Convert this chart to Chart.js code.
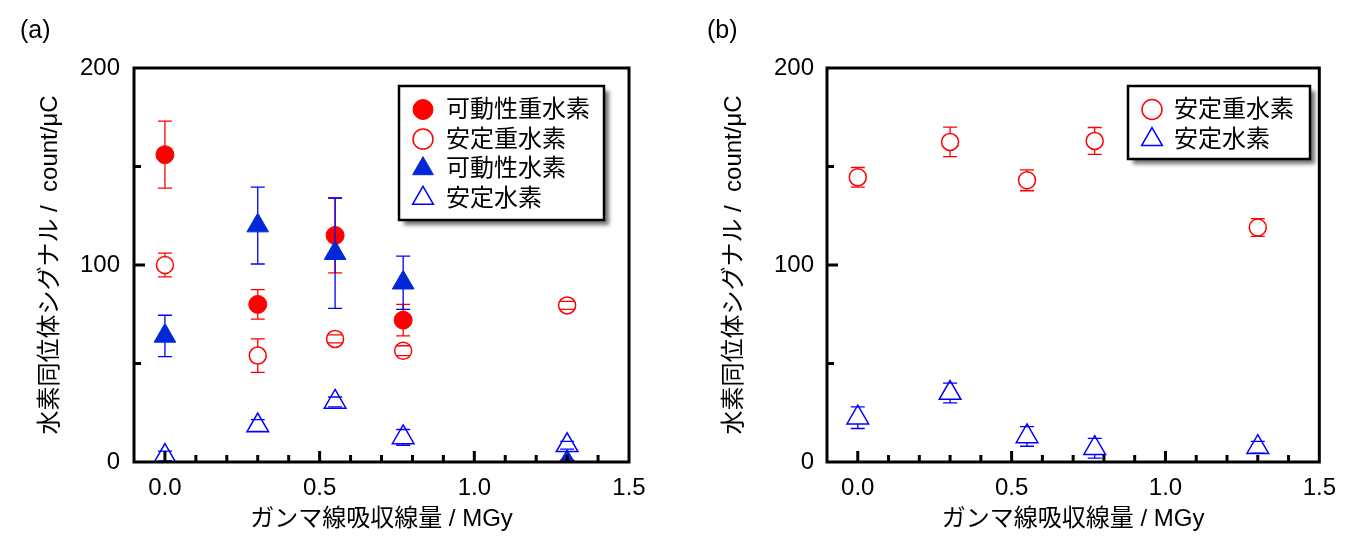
<!DOCTYPE html>
<html>
<head>
<meta charset="utf-8">
<script src="https://cdn.jsdelivr.net/npm/chart.js@4/dist/chart.umd.min.js"></script>
<style>
    body { margin: 0; background: #fff; width: 1348px; height: 554px; overflow: hidden; position: relative; }
    canvas { position: absolute; top: 0; }
</style>
</head>
<body>
<canvas id="chart-a" width="674" height="554" style="left:0"></canvas>
<canvas id="chart-b" width="674" height="554" style="left:674px"></canvas>
<script>
// Dose (MGy) and signal values (count/μC)
const doseA = [0.0, 0.3, 0.55, 0.77, 1.3];
const mobileD = [156, 80, 115, 72, -2];
const mobileDErr = [17, 7.5, 19, 8, 0];
const stableD = [100, 54, 62.5, 56.5, 79.5];
const stableDErr = [6, 8.5, 2, 2.5, 2];
const mobileH = [64, 120, 106, 91, 0];
const mobileHErr = [10.5, 19.5, 28, 13.5, 0];
const stableH = [3, 18.5, 30.5, 12.5, 8.5];
const stableHErr = [2.5, 3, 2.5, 4, 2];

const doseB = [0.0, 0.3, 0.55, 0.77, 1.3];
const stableDB = [144.5, 162.5, 143, 163, 119];
const stableDBErr = [5, 7.5, 5.3, 6.8, 4.5];
const stableHB = [22.5, 35, 13, 7, 7.5];
const stableHBErr = [5.5, 5, 5, 5, 3];

const xTicks = [0, 0.5, 1.0, 1.5];
const yTicks = [0, 100, 200];

const RED = '#ff0000';
const BLUE = '#0000ff';
const BLUE_FILL = '#0028d8';
const FONT = "'Liberation Sans', 'Noto Sans CJK JP', sans-serif";

Chart.defaults.font.family = FONT;
Chart.defaults.color = '#000';

function series(label, xs, ys, errs, color, filled, style, radius, order, legendRadius) {
    return {
        label: label,
        order: order,
        clip: 0,
        data: xs.map((x, i) => ({ x: x, y: ys[i] })),
        errors: errs,
        errColor: color === BLUE_FILL ? BLUE : color,
        legendRadius: legendRadius,
        pointStyle: style,
        pointRadius: radius,
        pointHoverRadius: radius,
        backgroundColor: filled ? color : 'rgba(0,0,0,0)',
        borderColor: color,
        borderWidth: filled ? 1 : 1.5,
        showLine: false
    };
}

// vertical error bars with caps, gap where the symbol sits
const errorBars = {
    id: 'errorBars',
    afterDatasetDraw(chart, args) {
        const ds = chart.data.datasets[args.index];
        const yScale = chart.scales.y;
        const ctx = chart.ctx;
        const a = chart.chartArea;
        ctx.save();
        ctx.beginPath();
        ctx.rect(a.left, a.top, a.width, a.height);
        ctx.clip();
        ctx.strokeStyle = ds.errColor;
        ctx.lineWidth = 1.3;
        args.meta.data.forEach((pt, i) => {
            const e = ds.errors[i];
            if (!e) return;
            const v = ds.data[i].y;
            const yt = yScale.getPixelForValue(v + e);
            const yb = yScale.getPixelForValue(v - e);
            const r = ds.pointRadius;
            const gapTop = r;
            const gapBot = ds.pointStyle === 'triangle' ? r * 0.5 : r;
            ctx.beginPath();
            if (pt.y - yt > gapTop) { ctx.moveTo(pt.x, pt.y - gapTop); ctx.lineTo(pt.x, yt); }
            if (yb - pt.y > gapBot) { ctx.moveTo(pt.x, pt.y + gapBot); ctx.lineTo(pt.x, yb); }
            ctx.moveTo(pt.x - 7, yt); ctx.lineTo(pt.x + 7, yt);
            ctx.moveTo(pt.x - 7, yb); ctx.lineTo(pt.x + 7, yb);
            ctx.stroke();
        });
        ctx.restore();
    }
};

// closed frame with inward tick marks
const frame = {
    id: 'frame',
    afterDatasetsDraw(chart) {
        const { ctx, chartArea: a, scales: { x, y } } = chart;
        ctx.save();
        ctx.strokeStyle = '#000';
        ctx.lineWidth = 3;
        ctx.strokeRect(a.left, a.top, a.width, a.height);
        ctx.beginPath();
        for (let k = 0; k < 15; k++) {
            const px = x.getPixelForValue(k / 10);
            const len = k % 5 === 0 ? 11 : 7;
            ctx.moveTo(px, a.bottom);
            ctx.lineTo(px, a.bottom - len);
        }
        for (let v = 50; v < 200; v += 50) {
            const py = y.getPixelForValue(v);
            const len = v % 100 === 0 ? 11 : 7;
            ctx.moveTo(a.left, py);
            ctx.lineTo(a.left + len, py);
        }
        ctx.stroke();
        ctx.restore();
    }
};

// legend box drawn inside the plot, with drop shadow
const boxLegend = {
    id: 'boxLegend',
    afterDraw(chart, args, opts) {
        const ctx = chart.ctx;
        ctx.save();
        ctx.shadowColor = 'rgba(0,0,0,0.55)';
        ctx.shadowBlur = 4;
        ctx.shadowOffsetX = 5;
        ctx.shadowOffsetY = 5;
        ctx.fillStyle = '#fff';
        ctx.fillRect(opts.left, opts.top, opts.width, opts.height);
        ctx.shadowColor = 'rgba(0,0,0,0)';
        ctx.lineWidth = 2.5;
        ctx.strokeStyle = '#000';
        ctx.strokeRect(opts.left, opts.top, opts.width, opts.height);
        chart.data.datasets.forEach((ds, i) => {
            const cy = opts.firstRow + i * opts.rowGap;
            ctx.fillStyle = ds.backgroundColor;
            ctx.strokeStyle = ds.borderColor;
            ctx.lineWidth = ds.borderWidth;
            Chart.helpers.drawPoint(ctx, {
                pointStyle: ds.pointStyle, radius: ds.legendRadius,
                borderWidth: ds.borderWidth, rotation: 0
            }, opts.markerX, cy);
            ctx.fillStyle = '#000';
            ctx.font = '24px ' + FONT;
            ctx.textAlign = 'left';
            ctx.textBaseline = 'middle';
            ctx.fillText(ds.label, opts.textX, cy + 1);
        });
        ctx.restore();
    }
};

const panelLabel = {
    id: 'panelLabel',
    afterDraw(chart, args, opts) {
        const ctx = chart.ctx;
        ctx.save();
        ctx.fillStyle = '#000';
        ctx.font = '25px ' + FONT;
        ctx.textBaseline = 'middle';
        ctx.fillText(opts.text, opts.x, 31);
        ctx.restore();
    }
};

function makeOptions(cfg) {
    return {
        responsive: false,
        animation: false,
        events: [],
        layout: { padding: { top: 68, right: cfg.padRight, left: 0, bottom: 0 } },
        plugins: {
            legend: { display: false },
            tooltip: { enabled: false },
            boxLegend: cfg.legend,
            panelLabel: { text: cfg.panel, x: cfg.panelX }
        },
        scales: {
            x: {
                type: 'linear', min: -0.1, max: 1.5,
                grid: { display: false, drawTicks: false },
                border: { display: false },
                afterBuildTicks: s => { s.ticks = xTicks.map(v => ({ value: v })); },
                afterFit: s => { s.height = 92; },
                ticks: {
                    font: { size: 24 }, color: '#000', padding: 12,
                    maxRotation: 0, autoSkip: false,
                    callback: v => Number(v).toFixed(1)
                },
                title: {
                    display: true, text: 'ガンマ線吸収線量 / MGy',
                    font: { size: 24 }, color: '#000', padding: { top: 0, bottom: 20.5 }
                }
            },
            y: {
                type: 'linear', min: 0, max: 200,
                grid: { display: false, drawTicks: false },
                border: { display: false },
                afterBuildTicks: s => { s.ticks = yTicks.map(v => ({ value: v })); },
                afterFit: s => { s.width = cfg.yWidth; },
                ticks: { font: { size: 24 }, color: '#000', padding: cfg.yTickPad },
                title: {
                    display: true, text: '水素同位体シグナル /  count/μC',
                    font: { size: 24 }, color: '#000', padding: { top: cfg.yTitlePad, bottom: 0 }
                }
            }
        }
    };
}

new Chart(document.getElementById('chart-a'), {
    type: 'scatter',
    data: {
        datasets: [
            series('可動性重水素', doseA, mobileD, mobileDErr, RED, true, 'circle', 9, 4, 10),
            series('安定重水素', doseA, stableD, stableDErr, RED, false, 'circle', 8.5, 3, 10),
            series('可動性水素', doseA, mobileH, mobileHErr, BLUE_FILL, true, 'triangle', 12.5, 2, 12),
            series('安定水素', doseA, stableH, stableHErr, BLUE, false, 'triangle', 12.5, 1, 12)
        ]
    },
    options: makeOptions({
        padRight: 45, yWidth: 134, yTickPad: 14, yTitlePad: 35.5, panel: '(a)', panelX: 20,
        legend: { left: 399, top: 86, width: 205, height: 134, markerX: 423, textX: 446, firstRow: 109.5, rowGap: 29.6 }
    }),
    plugins: [errorBars, frame, boxLegend, panelLabel]
});

new Chart(document.getElementById('chart-b'), {
    type: 'scatter',
    data: {
        datasets: [
            series('安定重水素', doseB, stableDB, stableDBErr, RED, false, 'circle', 8.5, 2, 10),
            series('安定水素', doseB, stableHB, stableHBErr, BLUE, false, 'triangle', 12.5, 1, 12)
        ]
    },
    options: makeOptions({
        padRight: 26, yWidth: 153, yTickPad: 13, yTitlePad: 46, panel: '(b)', panelX: 33,
        legend: { left: 454, top: 86, width: 182, height: 73, markerX: 478, textX: 500, firstRow: 109.5, rowGap: 30 }
    }),
    plugins: [errorBars, frame, boxLegend, panelLabel]
});
</script>
</body>
</html>
